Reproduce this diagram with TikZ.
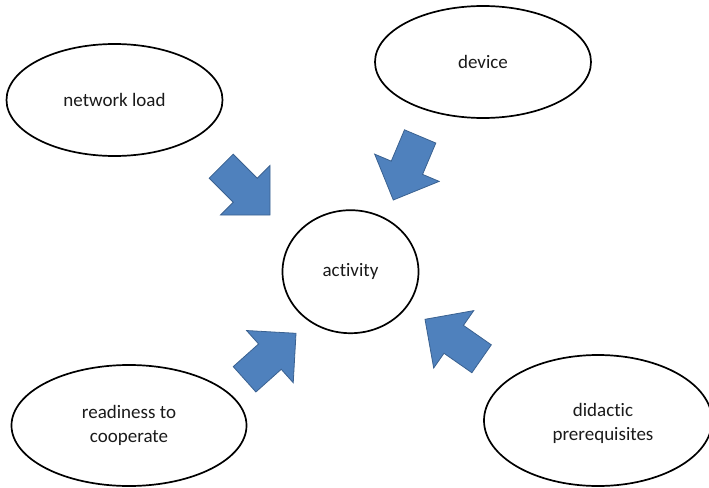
\documentclass[tikz,border=0pt]{standalone}
\usepackage{fontspec}
\setmainfont{Carlito}[Ligatures=NoCommon]
\usetikzlibrary{shapes.geometric}

\definecolor{arrowfill}{HTML}{4F81BD}
\definecolor{arrowline}{HTML}{3A6190}
\definecolor{labeltext}{HTML}{1A1A1A}

\tikzset{
  bubble/.style={ellipse, draw=black, line width=1.7pt, fill=white,
    inner sep=0pt, align=center, text=labeltext,
    font=\fontsize{19pt}{24.5pt}\selectfont},
  % block arrow with its tip at the origin, pointing along +x
  pics/blockarrow/.style={code={
    \fill[arrowfill, draw=arrowline, line width=0.8pt, line join=miter]
      (0,0) -- (-35,35) -- (-35,17) -- (-69,17) -- (-69,-17)
      -- (-35,-17) -- (-35,-35) -- cycle;
  }}
}

\begin{document}
\begin{tikzpicture}[x=1pt,y=-1pt]
\useasboundingbox (0,0) rectangle (709,487);

% factors around the centre
\node[bubble, minimum width=216pt, minimum height=112pt] (load) at (114.5,100) {network load};
\node[bubble, minimum width=216pt, minimum height=112pt] (device) at (483,62) {device};
\node[bubble, minimum width=235pt, minimum height=121pt] (ready) at (129,425.5) {readiness to\\cooperate};
\node[bubble, minimum width=228pt, minimum height=131pt] (didactic) at (598,420.5) {};
\node[align=center, text=labeltext, inner sep=0pt,
      font=\fontsize{19pt}{24.5pt}\selectfont] (didacticText) at (603,423.5) {didactic\\prerequisites};

% centre
\node[bubble, minimum width=136pt, minimum height=123pt] (activity) at (350.5,271.7) {activity};

% block arrows pointing towards the centre
\pic[rotate=-45]    (arrLoad)     at (270,215)   {blockarrow};
\pic[rotate=-112.9] (arrDevice)   at (393.3,200) {blockarrow};
\pic[rotate=41.8]   (arrReady)    at (296,333.3) {blockarrow};
\pic[rotate=145.1]  (arrDidactic) at (425,319.3) {blockarrow};
\end{tikzpicture}
\end{document}
